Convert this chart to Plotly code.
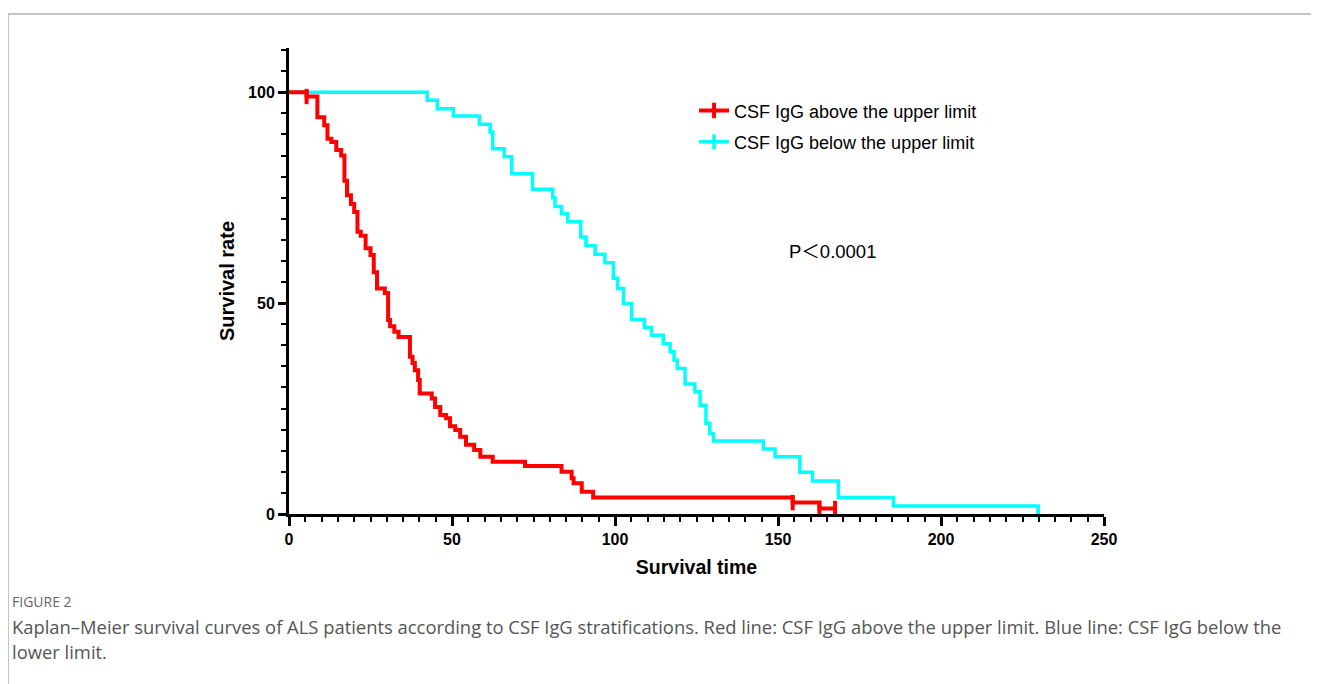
import numpy as np
import plotly.graph_objects as go

# ---- data ----
red_name = "CSF IgG above the upper limit"
cyan_name = "CSF IgG below the upper limit"

red_t = [0, 5.4, 8.7, 10.8, 11.8, 13, 14.5, 16, 17, 17.8, 19, 20, 21, 22, 23.5, 25, 26, 27,
         29.4, 30.4, 31, 32.3, 33.6, 37.1, 37.9, 38.6, 39.6, 40.1, 43.8, 44.8, 46.4, 48.2,
         49.4, 51, 52.5, 54.3, 56.8, 58.7, 62.5, 72.4, 83.6, 86.7, 87.3, 89.8, 93.3, 154.5,
         162.7, 167.5]
red_y = [100, 99.0, 94.1, 92.2, 89, 88.2, 86.3, 85, 79, 75.6, 73.5, 71.6, 66.9, 66, 63, 61.4,
         57.3, 53.5, 52.4, 46, 44.5, 43.2, 42, 37.3, 35.8, 34.1, 31.8, 28.6, 27.4, 25.4, 23.5,
         22.7, 20.8, 19.9, 18.3, 16.4, 15.2, 13.6, 12.4, 11.4, 10, 8.5, 7.3, 5.3, 3.9, 2.7,
         1.3, 1.3]
red_censor = [5.4, 154.5, 162.7, 167.5]

cyan_t = [0, 42.4, 45.5, 50.4, 58.4, 61.7, 62.5, 66, 68.3, 74.7, 80.9, 81.6, 83.6, 85.5, 89.5,
          91.1, 93.9, 96.9, 99.5, 100.8, 102.6, 105.1, 109, 111.2, 114.8, 116.9, 118.1, 119.1,
          121.5, 124.5, 126.1, 127.9, 129.1, 130.2, 145.5, 149.1, 156.7, 160.6, 168.5, 185.4,
          229.8]
cyan_y = [100, 98.1, 96.1, 94.4, 92.4, 90.6, 86.6, 84.7, 80.7, 77.0, 75.0, 72.9, 71.2, 69.3,
          65.7, 63.6, 61.6, 59.6, 55.9, 53.5, 49.9, 46.1, 44.2, 42.4, 40.4, 38.5, 36.5, 34.5,
          30.8, 29.0, 25.8, 21.5, 19.1, 17.3, 15.4, 13.6, 9.9, 7.8, 3.9, 1.9, 0]
cyan_censor = [229.8]

x_ticks = [0, 50, 100, 150, 200, 250]
y_ticks = [0, 50, 100]

x_title = "Survival time"
y_title = "Survival rate"
p_text = "P＜0.0001"
fig_label = "FIGURE 2"
caption_1 = ("Kaplan–Meier survival curves of ALS patients according to CSF IgG stratifications. "
             "Red line: CSF IgG above the upper limit. Blue line: CSF IgG below the")
caption_2 = "lower limit."


def step_value(ts, ys, t):
    i = int(np.searchsorted(ts, t, side="right")) - 1
    return ys[max(i, 0)]


RED = "#ff0000"
CYAN = "#00ffff"
AX_FONT = "Liberation Sans, Arial, sans-serif"
CAP_FONT = "Open Sans, Noto Sans, sans-serif"

# page body has an 8px margin, so the figure sits 8px right/down of the window origin
OX, OY = 8, 8
PL, PT, PW, PH = 289, 48, 815, 466      # plot area in window pixels
FIG_W, FIG_H = 1319 - OX, 684 - OY


def px(xw):
    return (xw - PL) / PW


def py(yw):
    return (PT + PH - yw) / PH


fig = go.Figure()

# cyan first so red draws on top where they overlap
fig.add_trace(go.Scatter(x=cyan_t, y=cyan_y, mode="lines", line=dict(color=CYAN, width=3.5, shape="hv"),
                         name=cyan_name, legendgroup="c", showlegend=False, hoverinfo="skip"))
fig.add_trace(go.Scatter(x=cyan_censor, y=[step_value(cyan_t, cyan_y, t) for t in cyan_censor],
                         mode="lines+markers", line=dict(color=CYAN, width=3.5),
                         marker=dict(symbol="line-ns", size=11, line=dict(color=CYAN, width=3.5)),
                         name=cyan_name, legendgroup="c", legendrank=2))
fig.add_trace(go.Scatter(x=red_t, y=red_y, mode="lines", line=dict(color=RED, width=4, shape="hv"),
                         name=red_name, legendgroup="r", showlegend=False, hoverinfo="skip"))
fig.add_trace(go.Scatter(x=red_censor, y=[step_value(red_t, red_y, t) for t in red_censor],
                         mode="markers",
                         marker=dict(symbol="line-ns", size=11, line=dict(color=RED, width=4)),
                         name=red_name, legendgroup="r", legendrank=1, showlegend=False))
fig.add_trace(go.Scatter(x=[None], y=[None], mode="lines+markers", line=dict(color=RED, width=4),
                         marker=dict(symbol="line-ns", size=11, line=dict(color=RED, width=4)),
                         name=red_name, legendgroup="r", legendrank=1))

fig.update_layout(
    width=FIG_W, height=FIG_H,
    margin=dict(l=PL - OX, r=FIG_W - (PL - OX) - PW, t=PT - OY, b=FIG_H - (PT - OY) - PH),
    paper_bgcolor="white", plot_bgcolor="white",
    font=dict(family=AX_FONT, color="black"),
    legend=dict(x=0.497, y=0.905, xanchor="left", yanchor="top", bgcolor="rgba(0,0,0,0)",
                font=dict(family=AX_FONT, size=18, color="black"), tracegroupgap=5,
                itemwidth=30),
    showlegend=True,
)

fig.update_xaxes(
    range=[0, 250], showgrid=False, zeroline=False,
    showline=True, linecolor="black", linewidth=3,
    tickmode="array", tickvals=x_ticks, ticks="outside", ticklen=9, tickwidth=3, tickcolor="black",
    tickfont=dict(family=AX_FONT, size=16, weight="bold", color="black"),
    minor=dict(dtick=5, ticks="outside", ticklen=5, tickwidth=2, tickcolor="black", showgrid=False),
    title=dict(text=x_title, font=dict(family=AX_FONT, size=19.5, weight="bold"), standoff=14),
)
fig.update_yaxes(
    range=[0, 110.5], showgrid=False, zeroline=False,
    showline=True, linecolor="black", linewidth=3,
    tickmode="array", tickvals=y_ticks, ticks="outside", ticklen=8, tickwidth=3, tickcolor="black",
    tickfont=dict(family=AX_FONT, size=16, weight="bold", color="black"),
    minor=dict(dtick=5, tick0=0, ticks="outside", ticklen=5, tickwidth=2, tickcolor="black", showgrid=False),
    title=dict(text=y_title, font=dict(family=AX_FONT, size=20, weight="bold"), standoff=9),
)

fig.add_annotation(text=p_text, xref="paper", yref="paper", x=px(787), y=py(252),
                   xanchor="left", yanchor="middle", showarrow=False,
                   font=dict(family="Liberation Sans, Noto Sans CJK SC, Arial", size=18.5, color="black"))

fig.add_annotation(text=fig_label, xref="paper", yref="paper", x=px(10), y=py(601),
                   xanchor="left", yanchor="middle", showarrow=False,
                   font=dict(family=CAP_FONT, size=14, color="#666666"))
fig.add_annotation(text=caption_1, xref="paper", yref="paper", x=px(10), y=py(626),
                   xanchor="left", yanchor="middle", showarrow=False,
                   font=dict(family=CAP_FONT, size=18.4, color="#555555"))
fig.add_annotation(text=caption_2, xref="paper", yref="paper", x=px(10), y=py(651),
                   xanchor="left", yanchor="middle", showarrow=False,
                   font=dict(family=CAP_FONT, size=18.4, color="#555555"))

# light frame around the figure panel
fig.add_shape(type="rect", xref="paper", yref="paper",
              x0=px(8), x1=px(1360), y0=py(720), y1=py(14),
              line=dict(color="#c4c4c4", width=2), fillcolor="rgba(0,0,0,0)", layer="below")

fig.write_html("out.html")
